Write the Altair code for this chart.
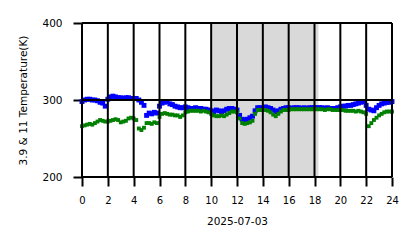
import altair as alt
import pandas as pd

# sample times (hours of the day)
hours = [round(i * 0.2, 1) for i in range(121)]

temp_39 = [298, 300, 301, 301, 300, 300, 299, 297, 296, 292,
           301, 304, 305, 304, 303, 303, 302, 303, 303, 302,
           302, 302, 300, 297, 293, 280, 283, 282, 284, 283,
           292, 296, 297, 298, 295, 294, 292, 291, 290, 290,
           291, 290, 289, 289, 290, 289, 289, 288, 288, 287,
           286, 285, 287, 286, 285, 286, 288, 289, 289, 288,
           287, 280, 275, 274, 275, 277, 279, 286, 290, 290,
           290, 291, 290, 289, 287, 285, 286, 288, 289, 290,
           290, 289, 290, 290, 290, 289, 290, 289, 290, 290,
           290, 290, 290, 290, 289, 290, 289, 289, 289, 290,
           291, 292, 292, 293, 293, 294, 295, 296, 297, 298,
           293, 288, 287, 286, 290, 293, 295, 296, 297, 297, 298]

temp_11 = [266, 267, 268, 269, 268, 270, 272, 274, 273, 272,
           272, 273, 274, 275, 274, 271, 272, 273, 276, 277,
           276, 274, 263, 261, 264, 270, 270, 269, 271, 270,
           278, 282, 283, 282, 281, 281, 280, 280, 278, 280,
           284, 285, 286, 286, 286, 286, 285, 286, 285, 284,
           282, 280, 279, 279, 280, 279, 281, 283, 285, 285,
           284, 276, 270, 269, 270, 271, 273, 282, 287, 287,
           287, 287, 286, 284, 281, 279, 282, 285, 287, 287,
           287, 288, 288, 288, 288, 288, 288, 288, 288, 288,
           288, 288, 288, 288, 287, 288, 288, 287, 287, 287,
           287, 287, 286, 286, 286, 286, 285, 286, 285, 284,
           282, 266, 270, 274, 277, 280, 282, 284, 285, 285, 285]

x_ticks = [0, 2, 4, 6, 8, 10, 12, 14, 16, 18, 20, 22, 24]
y_ticks = [200, 300, 400]
shade_start = [10.0]
shade_end = [18.3]

df39 = pd.DataFrame({"h": hours, "t": temp_39})
df11 = pd.DataFrame({"h": hours, "t": temp_11})
shade = pd.DataFrame({"h": shade_start, "e": shade_end, "t": [200], "hi": [400]})
vgrid = pd.DataFrame({"h": x_ticks})
hgrid = pd.DataFrame({"t": y_ticks})

FONT = "DejaVu Sans"
xscale = alt.Scale(domain=[0, 24], nice=False, zero=False)
yscale = alt.Scale(domain=[200, 400], nice=False, zero=False)

xaxis = alt.Axis(values=x_ticks, format="d", title="2025-07-03", grid=False, domain=False,
                 tickColor="black", tickWidth=2, tickSize=9, labelPadding=9,
                 labelFont=FONT, labelFontSize=10, labelColor="black",
                 labelOverlap=False, labelFlush=False,
                 titleFont=FONT, titleFontSize=10.5, titleFontWeight="normal",
                 titleColor="black", titlePadding=11)
yaxis = alt.Axis(values=y_ticks, format="d", title="3.9 & 11 Temperature(K)", grid=False,
                 domain=False, tickColor="black", tickWidth=2, tickSize=9, labelPadding=11,
                 labelFont=FONT, labelFontSize=10.5, labelColor="black",
                 labelOverlap=False,
                 titleFont=FONT, titleFontSize=10.5, titleFontWeight="normal",
                 titleColor="black", titlePadding=13)

X = alt.X("h:Q", scale=xscale, axis=xaxis, title="2025-07-03")
Y = alt.Y("t:Q", scale=yscale, axis=yaxis, title="3.9 & 11 Temperature(K)")

rect = alt.Chart(shade).mark_rect(color="#d9d9d9").encode(
    x=X, x2="e:Q", y=Y, y2="hi:Q",
)

blue = alt.Chart(df39).mark_square(color="#0000ff", size=24, opacity=1).encode(x=X, y=Y)

green = alt.Chart(df11).mark_square(color="#008000", size=15, opacity=1).encode(x=X, y=Y)

vrules = alt.Chart(vgrid).mark_rule(color="black", strokeWidth=2).encode(x=X)
hrules = alt.Chart(hgrid).mark_rule(color="black", strokeWidth=2).encode(y=Y)

chart = alt.layer(rect, blue, green, vrules, hrules).properties(
    width=310, height=154,
    autosize=alt.AutoSizeParams(type="none"),
    padding={"left": 82, "top": 23, "right": 26, "bottom": 71},
    background="white",
).configure_view(stroke=None)

chart.save("out.html", embed_options={"renderer": "svg", "actions": False})
